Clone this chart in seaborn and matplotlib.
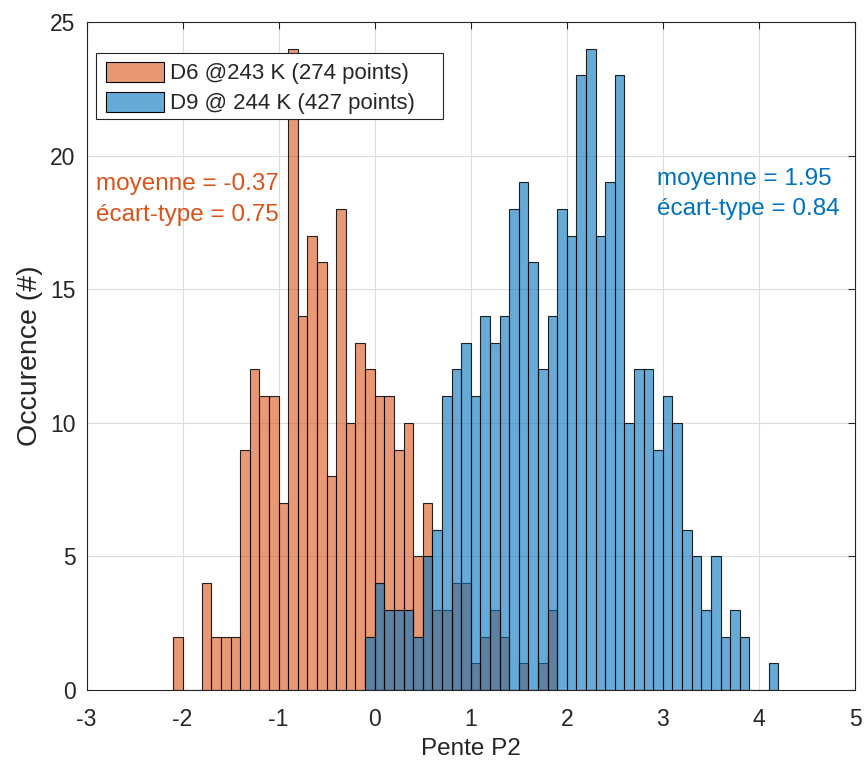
import numpy as np
import pandas as pd
import matplotlib
matplotlib.use("Agg")
import matplotlib.pyplot as plt
import seaborn as sns
from matplotlib.patches import Patch, Rectangle

# ---- data (bin counts, bin width 0.1) ----
bin_width = 0.1
d6_start = -2.1
d6_counts = [2, 0, 0, 4, 2, 2, 2, 9, 12, 11, 11, 7, 24, 14, 17, 16, 8, 18, 10, 13,
             12, 11, 11, 9, 10, 5, 7, 3, 3, 4, 4, 1, 2, 3, 2, 0, 1, 0, 1, 3]
d9_start = -0.1
d9_counts = [2, 4, 3, 3, 3, 2, 5, 6, 11, 12, 13, 11, 14, 13, 14, 18, 19, 16, 12, 14,
             18, 17, 23, 24, 17, 19, 23, 10, 12, 12, 9, 11, 10, 6, 5, 3, 5, 2, 3, 2,
             0, 0, 1]
labels = ["D6 @243 K (274 points)", "D9 @ 244 K (427 points)"]
stats_d6 = ["moyenne = -0.37", "écart-type = 0.75"]
stats_d9 = ["moyenne = 1.95", "écart-type = 0.84"]
x_ticks = [-3, -2, -1, 0, 1, 2, 3, 4, 5]
y_ticks = [0, 5, 10, 15, 20, 25]

orange = (0.850, 0.325, 0.098)
blue = (0.000, 0.447, 0.741)
axcol = "#262626"

def make_df(start, counts):
    n = len(counts)
    centers = np.round(start + bin_width * (np.arange(n) + 0.5), 4)
    return pd.DataFrame({"x": centers, "w": counts})

df6 = make_df(d6_start, d6_counts)
df9 = make_df(d9_start, d9_counts)
range6 = (d6_start, round(d6_start + bin_width * len(d6_counts), 4))
range9 = (d9_start, round(d9_start + bin_width * len(d9_counts), 4))

sns.set_style("white")
plt.rcParams["font.family"] = ["Liberation Sans", "DejaVu Sans"]

W, H = 868, 765
fig = plt.figure(figsize=(W / 100, H / 100), dpi=100)
ax_l, ax_r, ax_t, ax_b = 86.5, 855, 22, 690
ax = fig.add_axes([ax_l / W, 1 - ax_b / H, (ax_r - ax_l) / W, (ax_b - ax_t) / H])

def axfrac(px, py):
    return ((px - ax_l) / (ax_r - ax_l), (ax_b - py) / (ax_b - ax_t))

sns.histplot(data=df6, x="x", weights="w", binwidth=bin_width, binrange=range6,
             ax=ax, color=orange, element="bars")
n6 = len(ax.patches)
sns.histplot(data=df9, x="x", weights="w", binwidth=bin_width, binrange=range9,
             ax=ax, color=blue, element="bars")

for i, p in enumerate(ax.patches):
    c = orange if i < n6 else blue
    p.set_alpha(None)
    p.set_facecolor((*c, 0.6))
    p.set_edgecolor((0, 0, 0, 0.85))
    p.set_linewidth(0.8)

ax.set_xlim(-3, 5)
ax.set_ylim(0, 25)
ax.set_xticks(x_ticks)
ax.set_yticks(y_ticks)
ax.set_xticklabels([str(t) for t in x_ticks])
ax.set_yticklabels([str(t) for t in y_ticks])
ax.tick_params(direction="in", length=5, width=0.8, top=True, right=True,
               labelsize=16.5, colors=axcol)
ax.tick_params(axis="x", pad=13)
ax.tick_params(axis="y", pad=8)
for s in ax.spines.values():
    s.set_color(axcol)
    s.set_linewidth(0.8)
    s.set_visible(True)
ax.grid(True, color="#dcdcdc", linewidth=0.8)
ax.set_axisbelow(True)

ax.set_xlabel("Pente P2", fontsize=17.5, color=axcol, labelpad=5)
ax.set_ylabel("Occurence (#)", fontsize=20.5, color=axcol, labelpad=5)

ax.text(-2.90, 18.71, stats_d6[0], color=orange, fontsize=17.5, va="baseline", ha="left")
ax.text(-2.90, 17.55, stats_d6[1], color=orange, fontsize=17.5, va="baseline", ha="left")
ax.text(2.94, 18.90, stats_d9[0], color=blue, fontsize=17.5, va="baseline", ha="left")
ax.text(2.94, 17.78, stats_d9[1], color=blue, fontsize=17.5, va="baseline", ha="left")

# legend frame (MATLAB-style box)
fx0, fy0 = axfrac(96, 119)
fx1, fy1 = axfrac(443, 53)
ax.add_patch(Rectangle((fx0, fy0), fx1 - fx0, fy1 - fy0, transform=ax.transAxes,
                       facecolor="white", edgecolor=axcol, linewidth=0.8,
                       zorder=4.5, clip_on=False))

handles = [Patch(facecolor=(*orange, 0.6), edgecolor="black", linewidth=0.8),
           Patch(facecolor=(*blue, 0.6), edgecolor="black", linewidth=0.8)]
lx, ly = axfrac(99.7, 55)
leg = ax.legend(handles, labels, loc="upper left", bbox_to_anchor=(lx, ly),
                fontsize=16, frameon=False, handlelength=2.6, handleheight=1.0,
                handletextpad=0.27, borderpad=0.3, labelspacing=0.34,
                borderaxespad=0)
leg.set_zorder(5)

fig.savefig("out.png", dpi=100)
